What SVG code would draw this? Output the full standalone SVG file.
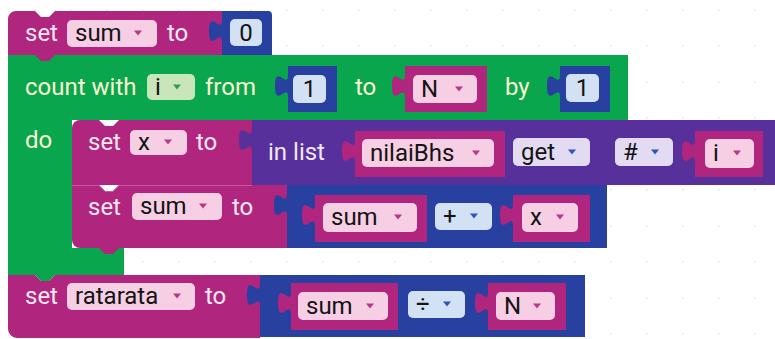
<svg xmlns="http://www.w3.org/2000/svg" xmlns:xlink="http://www.w3.org/1999/xlink" width="775" height="339" viewBox="0 0 775 339">
  <style>
    text { font-family: Roboto, "Liberation Sans", sans-serif; font-size: 24px; }
    .mag { fill: #b0267e; }
    .grn { fill: #0aa64d; }
    .blu { fill: #2840a0; }
    .pur { fill: #58309c; }
    .f-pink { fill: #f6cfe4; }
    .f-blue { fill: #d3e1f4; }
    .f-lav { fill: #e3dbf1; }
    .f-grn { fill: #c9e6ba; }
    .t-mag { fill: #fbe8f2; }
    .t-grn { fill: #f8f6d2; }
    .t-pur { fill: #efe9f8; }
    .t-fld { fill: #141414; }
    .a-mag { fill: #b8378a; }
    .a-blu { fill: #2f55b8; }
    .a-grn { fill: #2f9e4e; }
    .seam { fill: none; stroke: #c45a9e; stroke-width: 1; }
  </style>
  <defs>
    <!-- dropdown caret -->
    <path id="dd" d="M-4,-2.5 h8 l-4,5 z"/>
    <!-- faint workspace grid -->
    <pattern id="grid" patternUnits="userSpaceOnUse" x="17" y="-8" width="36" height="36">
      <circle cx="18" cy="18" r="1.1" fill="#e6ecf6"/>
    </pattern>
  </defs>

  <rect width="775" height="339" fill="#ffffff"/>
  <rect width="775" height="339" fill="url(#grid)"/>

  <!-- count with i from 1 to N by 1 (C-shaped loop) -->
  <g id="loop">
    <path class="grn" d="M8,55 H628 V120 H72 V248 H124 V275 H55 l-6,6 h-8 l-6,-6 H8 Z"/>
    <text class="t-grn" x="25" y="95">count with</text>
    <rect class="f-grn" x="147" y="74" width="48" height="26" rx="5"/>
    <text class="t-fld" x="155" y="95">i</text>
    <use href="#dd" x="177" y="87" class="a-grn"/>
    <text class="t-grn" x="205" y="95">from</text>
    <text class="t-grn" x="355" y="95">to</text>
    <text class="t-grn" x="505" y="95">by</text>
    <text class="t-grn" x="25" y="148">do</text>
  </g>

  <g id="from-1">
    <path class="blu" d="M288,66 H337 V112 H288 V97 c0,-15 -13,12 -13,-11 s13,4 13,-11 Z"/>
    <rect class="f-blue" x="293" y="75" width="33" height="28" rx="5"/>
    <text class="t-fld" x="309.5" y="97" text-anchor="middle">1</text>
  </g>

  <g id="to-N">
    <path class="mag" d="M405,66 H487 V112 H405 V97 c0,-15 -13,12 -13,-11 s13,4 13,-11 Z"/>
    <rect class="f-pink" x="413" y="75" width="64" height="28" rx="5"/>
    <text class="t-fld" x="421" y="97">N</text>
    <use href="#dd" x="459" y="89" class="a-mag"/>
  </g>

  <g id="by-1">
    <path class="blu" d="M560,66 H610 V112 H560 V97 c0,-15 -13,12 -13,-11 s13,4 13,-11 Z"/>
    <rect class="f-blue" x="566" y="74" width="33" height="28" rx="5"/>
    <text class="t-fld" x="582.5" y="96" text-anchor="middle">1</text>
  </g>

  <!-- set sum to 0 -->
  <g id="set-sum-0">
    <path class="mag" d="M8,19 a8,8 0 0 1 8,-8 H35 l6,6 h8 l6,-6 H222 V55 H55 l-6,6 h-8 l-6,-6 H8 Z"/>
    <text class="t-mag" x="25" y="41">set</text>
    <rect class="f-pink" x="67" y="20" width="90" height="27" rx="5"/>
    <text class="t-fld" x="75" y="41">sum</text>
    <use href="#dd" x="138" y="33" class="a-mag"/>
    <text class="t-mag" x="167" y="41">to</text>
  </g>
  <g id="zero">
    <path class="blu" d="M222,11 H268 a4,4 0 0 1 4,4 V55 H222 V42 c0,-15 -13,12 -13,-11 s13,4 13,-11 Z"/>
    <rect class="f-blue" x="230" y="19" width="32" height="27" rx="5"/>
    <text class="t-fld" x="246" y="41" text-anchor="middle">0</text>
  </g>

  <!-- set x to (in list nilaiBhs get # i) -->
  <g id="set-x">
    <path class="mag" d="M72,128 a8,8 0 0 1 8,-8 H99 l6,6 h8 l6,-6 H252 V185 H72 Z"/>
    <text class="t-mag" x="88" y="150">set</text>
    <rect class="f-pink" x="130" y="130" width="57" height="25" rx="5"/>
    <text class="t-fld" x="138" y="150">x</text>
    <use href="#dd" x="168" y="142" class="a-mag"/>
    <text class="t-mag" x="196" y="150">to</text>
  </g>
  <g id="list-get">
    <path class="pur" d="M252,120 H776 V185 H252 V151 c0,-15 -13,12 -13,-11 s13,4 13,-11 Z"/>
    <text class="t-pur" x="268" y="160">in list</text>
    <rect class="f-lav" x="513" y="138" width="77" height="28" rx="5"/>
    <text class="t-fld" x="521" y="160">get</text>
    <use href="#dd" x="572" y="152" class="a-blu"/>
    <rect class="f-lav" x="615" y="138" width="58" height="28" rx="5"/>
    <text class="t-fld" x="623" y="160">#</text>
    <use href="#dd" x="655" y="152" class="a-blu"/>
  </g>
  <g id="nilaiBhs">
    <path class="mag" d="M355,131 H505 V177 H355 V162 c0,-15 -13,12 -13,-11 s13,4 13,-11 Z"/>
    <rect class="f-pink" x="362" y="139" width="132" height="28" rx="5"/>
    <text class="t-fld" x="370" y="161">nilaiBhs</text>
    <use href="#dd" x="476" y="153" class="a-mag"/>
  </g>
  <g id="index-i">
    <path class="mag" d="M695,131 H763 V177 H695 V162 c0,-15 -13,12 -13,-11 s13,4 13,-11 Z"/>
    <rect class="f-pink" x="705" y="139" width="49" height="29" rx="5"/>
    <text class="t-fld" x="713" y="161">i</text>
    <use href="#dd" x="737" y="153" class="a-mag"/>
  </g>

  <!-- set sum to sum + x -->
  <g id="set-sum-add">
    <path class="mag" d="M72,185 H99 l6,6 h8 l6,-6 H287 V248 H119 l-6,6 h-8 l-6,-6 H80 a8,8 0 0 1 -8,-8 Z"/>
    <path class="seam" d="M72,185.5 H99 l6,6 h8 l6,-6 H252"/>
    <text class="t-mag" x="88" y="215">set</text>
    <rect class="f-pink" x="132" y="193" width="90" height="27" rx="5"/>
    <text class="t-fld" x="140" y="214">sum</text>
    <use href="#dd" x="203" y="206" class="a-mag"/>
    <text class="t-mag" x="232" y="215">to</text>
  </g>
  <g id="add">
    <path class="blu" d="M287,185 H607 V248 H287 V216 c0,-15 -13,12 -13,-11 s13,4 13,-11 Z"/>
    <rect class="f-blue" x="435" y="203" width="57" height="27" rx="5"/>
    <text class="t-fld" x="443" y="224">+</text>
    <use href="#dd" x="474" y="216" class="a-blu"/>
  </g>
  <g id="add-sum">
    <path class="mag" d="M315,195 H427 V242 H315 V226 c0,-15 -13,12 -13,-11 s13,4 13,-11 Z"/>
    <rect class="f-pink" x="323" y="203" width="94" height="29" rx="5"/>
    <text class="t-fld" x="331" y="225">sum</text>
    <use href="#dd" x="398" y="217" class="a-mag"/>
  </g>
  <g id="add-x">
    <path class="mag" d="M513,195 H590 V242 H513 V226 c0,-15 -13,12 -13,-11 s13,4 13,-11 Z"/>
    <rect class="f-pink" x="522" y="203" width="56" height="29" rx="5"/>
    <text class="t-fld" x="530" y="225">x</text>
    <use href="#dd" x="560" y="217" class="a-mag"/>
  </g>

  <!-- set ratarata to sum ÷ N -->
  <g id="set-ratarata">
    <path class="mag" d="M8,275 H35 l6,6 h8 l6,-6 H260 V338 H17 a9,9 0 0 1 -9,-9 Z"/>
    <text class="t-mag" x="25" y="304">set</text>
    <rect class="f-pink" x="67" y="283" width="128" height="27" rx="5"/>
    <text class="t-fld" x="75" y="304">ratarata</text>
    <use href="#dd" x="177" y="296" class="a-mag"/>
    <text class="t-mag" x="205" y="304">to</text>
  </g>
  <g id="divide">
    <path class="blu" d="M260,275 H585 V337 H260 V306 c0,-15 -13,12 -13,-11 s13,4 13,-11 Z"/>
    <rect class="f-blue" x="408" y="291" width="57" height="27" rx="5"/>
    <text class="t-fld" x="416" y="312">÷</text>
    <use href="#dd" x="447" y="304" class="a-blu"/>
  </g>
  <g id="divide-sum">
    <path class="mag" d="M291,283 H398 V330 H291 V314 c0,-15 -13,12 -13,-11 s13,4 13,-11 Z"/>
    <rect class="f-pink" x="298" y="292" width="90" height="28" rx="5"/>
    <text class="t-fld" x="306" y="314">sum</text>
    <use href="#dd" x="370" y="306" class="a-mag"/>
  </g>
  <g id="divide-N">
    <path class="mag" d="M488,283 H566 V330 H488 V314 c0,-15 -13,12 -13,-11 s13,4 13,-11 Z"/>
    <rect class="f-pink" x="496" y="292" width="59" height="28" rx="5"/>
    <text class="t-fld" x="504" y="314">N</text>
    <use href="#dd" x="537" y="306" class="a-mag"/>
  </g>
</svg>
